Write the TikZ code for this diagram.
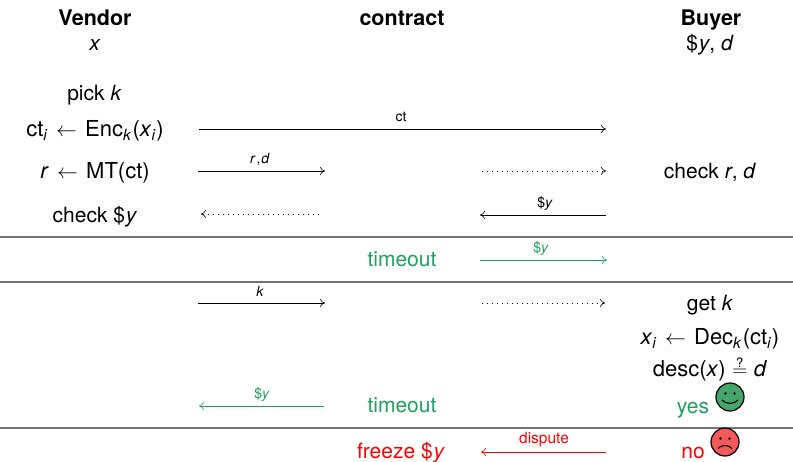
\documentclass[tikz,border=0pt]{standalone}
\usepackage{fontspec}
\setmainfont{TeX Gyre Heros}
\usetikzlibrary{arrows.meta,positioning}
\definecolor{grn}{RGB}{30,160,95}
\definecolor{smgreen}{RGB}{70,165,105}
\definecolor{smred}{RGB}{245,90,90}
\newcommand{\vv}[1]{\textit{#1}}
\newcommand{\tsb}[1]{\raisebox{-0.35ex}{\fontsize{15.5}{15.5}\selectfont\itshape #1\kern0.8pt}}
\newcommand{\la}{\hspace{0.38em}$\leftarrow$\hspace{0.38em}}
\newcommand{\dol}{\$\kern0.8pt}
\tikzset{
  x=1pt,y=-1pt,
  txt/.style={font=\fontsize{21}{25}\selectfont,inner sep=0pt,anchor=base},
  eqn/.style={txt,font=\fontsize{22}{26}\selectfont},
  head/.style={txt,font=\fontsize{21.5}{25}\selectfont\bfseries},
  lab/.style={font=\fontsize{14}{16}\selectfont,inner sep=0pt,anchor=base},
  msg/.style={line width=0.6pt,-{Computer Modern Rightarrow[length=5pt,width=8pt]}},
  dots/.style={msg,dash pattern=on 0.7pt off 4.3pt},
  sep/.style={line width=1.1pt,draw=black!55},
  face/.style={circle,draw=black,line width=1.2pt,minimum size=28pt,inner sep=0pt},
}
\newcommand{\msgline}[6]{%
  \coordinate (#1a) at (#2,#4);
  \coordinate (#1b) at (#3,#4);
  \draw[#5,#6] (#1a) -- (#1b);
}
\begin{document}
\begin{tikzpicture}
\useasboundingbox (0,0) rectangle (793,461);
% headers
\node[head] (hv) at (95,25.5) {Vendor};
\node[head] (hc) at (402,25.5) {contract};
\node[head] (hb) at (711,25.5) {Buyer};
\node[txt] (vx) at (95,50.5) {\vv{x}};
\node[txt] (by) at (710,50.5) {\dol\vv{y}, \vv{d}};
% vendor column
\node[txt] (t1) at (94.5,100) {pick \vv{k}};
\node[eqn] (t2) at (95,136) {ct\tsb{i}\la Enc\tsb{k}\kern1pt(\vv{x}\tsb{i}\kern0.5pt)};
\node[eqn] (t3) at (95,178) {\vv{r}\la MT(ct)};
\node[txt] (t4) at (95,222) {check \dol\vv{y}};
% buyer column
\node[txt] (b3) at (710,178) {check \vv{r}, \vv{d}};
\node[txt] (b5) at (710,310) {get \vv{k}};
\node[eqn] (b6) at (710,344) {\vv{x}\tsb{i}\la Dec\tsb{k}\kern1pt(ct\tsb{i}\kern0.5pt)};
\node[eqn] (b7) at (710,376) {desc(\vv{x})\hspace{0.3em}$\stackrel{\raisebox{-0.3ex}{\fontsize{13}{13}\selectfont ?}}{=}$\hspace{0.3em}\vv{d}};
\node[txt,text=grn] (yes) at (693,413) {yes};
\node[txt,text=red] (no) at (693,458) {no};
% contract column
\node[txt,text=grn] (to1) at (402,266) {timeout};
\node[txt,text=grn] (to2) at (402,412) {timeout};
\node[txt,text=red] (fz) at (401,458) {freeze \dol\vv{y}};
% separators
\coordinate (s1l) at (0,237); \coordinate (s1r) at (793,237);
\coordinate (s2l) at (0,282); \coordinate (s2r) at (793,282);
\coordinate (s3l) at (0,428); \coordinate (s3r) at (793,428);
\draw[sep] (s1l) -- (s1r);
\draw[sep] (s2l) -- (s2r);
\draw[sep] (s3l) -- (s3r);
% messages
\msgline{m1}{199}{606}{129}{msg}{black}
\node[lab] at (401,121) {ct};
\msgline{m2}{198}{325}{171}{msg}{black}
\node[lab] at (260,163) {\vv{r}\kern1pt,\kern1pt\vv{d}};
\msgline{m3}{482}{606}{171}{dots}{black}
\msgline{m4}{319}{201}{214}{dots}{black}
\msgline{m5}{606}{480}{215}{msg}{black}
\node[lab] at (545,207) {\$\vv{y}};
\msgline{m6}{480}{607}{260}{msg}{grn}
\node[lab,text=grn] at (541,252) {\$\vv{y}};
\msgline{m7}{198}{325}{303}{msg}{black}
\node[lab] at (260,296) {\vv{k}};
\msgline{m8}{482}{605}{303}{dots}{black}
\msgline{m9}{324}{199}{406}{msg}{grn}
\node[lab,text=grn] at (262,398) {\$\vv{y}};
\msgline{m10}{606}{481}{452}{msg}{red}
\node[lab,text=red,font=\fontsize{15.5}{17}\selectfont] at (544,443) {dispute};
% smileys
\node[face,fill=smgreen] (sm) at (730,397) {};
\begin{scope}[shift={(sm.center)}]
\fill (-4.5,-3.5) circle (1.3);
\fill (4.5,-3.5) circle (1.3);
\draw[line width=1.1pt] (-8,3) .. controls (-4,7.5) and (4,7.5) .. (8,3);
\end{scope}
\node[face,fill=smred] (sd) at (725,442) {};
\begin{scope}[shift={(sd.center)}]
\fill (-4.5,-3.5) circle (1.3);
\fill (4.5,-3.5) circle (1.3);
\draw[line width=1.1pt] (-7,6.5) .. controls (-4,2.5) and (4,2.5) .. (7,6.5);
\end{scope}
\end{tikzpicture}
\end{document}
